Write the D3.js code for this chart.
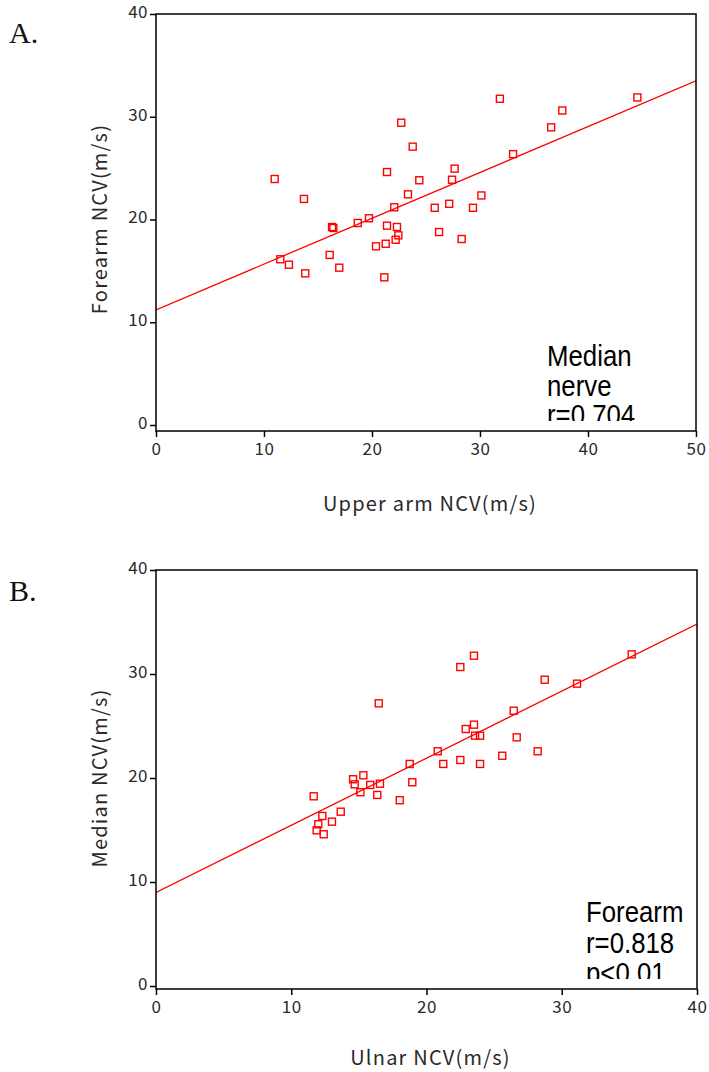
<!doctype html>
<html>
<head>
<meta charset="UTF-8">
<script src="https://cdn.jsdelivr.net/npm/d3@7"></script>
<style>
  body { margin: 0; background: #fff; }
  svg text { font-family: "Noto Sans CJK KR", "Noto Sans", sans-serif; }
</style>
</head>
<body>
<script>
// ---- panel A : upper arm vs forearm NCV (median nerve)
const upperArmNCV = [10.99, 13.70, 22.71, 23.77, 21.39, 24.38, 23.33, 22.06, 16.30, 16.42,
                     18.68, 19.72, 21.39, 22.31, 22.44, 22.19, 21.27, 20.37, 16.08, 11.51,
                     12.31, 13.82, 16.97, 21.14, 31.84, 37.62, 36.59, 44.57, 33.06, 27.65,
                     27.41, 30.13, 25.81, 27.15, 29.35, 26.21, 28.30];
const forearmNCV_A = [23.94, 22.00, 29.42, 27.09, 24.62, 23.82, 22.45, 21.19, 19.27, 19.17,
                      19.66, 20.12, 19.40, 19.27, 18.46, 18.03, 17.64, 17.39, 16.55, 16.13,
                      15.60, 14.76, 15.31, 14.37, 31.75, 30.61, 28.97, 31.88, 26.36, 24.95,
                      23.87, 22.34, 21.14, 21.53, 21.14, 18.78, 18.10];
const fitLineA = [[0, 11.2], [50, 33.5]];
const xTicksA = [0, 10, 20, 30, 40, 50];
const notesA = ["Median", "nerve", "r=0.704"];

// ---- panel B : ulnar vs median NCV (forearm)
const ulnarNCV = [16.47, 22.90, 20.83, 18.76, 21.24, 22.50, 15.33, 14.57, 14.69, 15.84,
                  16.56, 18.95, 15.11, 16.36, 18.02, 11.66, 13.66, 12.30, 13.01, 12.00,
                  11.88, 12.40, 23.51, 22.50, 35.17, 28.74, 31.13, 26.45, 23.51, 23.59,
                  23.96, 26.67, 23.96, 25.60, 28.22];
const medianNCV_B = [27.18, 24.71, 22.57, 21.35, 21.35, 21.73, 20.26, 19.88, 19.39, 19.33,
                     19.45, 19.59, 18.63, 18.37, 17.86, 18.24, 16.76, 16.35, 15.80, 15.55,
                     14.97, 14.59, 31.76, 30.67, 31.89, 29.45, 29.07, 26.47, 25.13, 24.07,
                     24.07, 23.91, 21.35, 22.14, 22.57];
const fitLineB = [[0, 9.0], [40, 34.8]];
const xTicksB = [0, 10, 20, 30, 40];
const notesB = ["Forearm", "r=0.818", "p<0.01"];

const yTicks = [0, 10, 20, 30, 40];

const svg = d3.select("body").append("svg")
    .attr("width", 709)
    .attr("height", 1072);

function drawPanel(o) {
    const x = d3.scaleLinear().domain(o.xDomain).range([o.left, o.right]);
    const y = d3.scaleLinear().domain([0, 40]).range([o.y0, o.y40]);
    const g = svg.append("g");

    // panel letter
    g.append("text")
        .attr("x", 9).attr("y", o.letterY)
        .style("font-family", "'Liberation Serif', 'DejaVu Serif', serif")
        .style("font-size", "30px")
        .attr("fill", "#111")
        .text(o.letter);

    // fit line, clipped to the frame
    const clipId = "clip" + o.letter.replace(".", "");
    g.append("clipPath").attr("id", clipId)
      .append("rect")
        .attr("x", o.left).attr("y", o.top)
        .attr("width", o.right - o.left).attr("height", o.bottom - o.top);

    g.append("line")
        .attr("clip-path", "url(#" + clipId + ")")
        .attr("x1", x(o.fit[0][0])).attr("y1", y(o.fit[0][1]))
        .attr("x2", x(o.fit[1][0])).attr("y2", y(o.fit[1][1]))
        .attr("stroke", "#ff0000")
        .attr("stroke-width", 1.3);

    // points
    g.selectAll("rect.pt")
        .data(o.xs.map((v, i) => [v, o.ys[i]]))
        .enter().append("rect")
          .attr("class", "pt")
          .attr("x", d => x(d[0]) - 3.5)
          .attr("y", d => y(d[1]) - 3.5)
          .attr("width", 7).attr("height", 7)
          .attr("fill", "none")
          .attr("stroke", "#ff0000")
          .attr("stroke-width", 1.4);

    // frame
    g.append("rect")
        .attr("x", o.left).attr("y", o.top)
        .attr("width", o.right - o.left).attr("height", o.bottom - o.top)
        .attr("fill", "none")
        .attr("stroke", "#000")
        .attr("stroke-width", 1.5);

    // y axis
    const yAxis = d3.axisLeft(y).tickValues(yTicks).tickSize(6).tickSizeOuter(0);
    const ya = g.append("g")
        .attr("transform", "translate(" + o.left + ",0)")
        .call(yAxis);
    ya.select(".domain").remove();
    ya.selectAll("line").attr("stroke", "#000").attr("stroke-width", 1.5);
    ya.selectAll("text")
        .attr("x", -8)
        .attr("dy", "0.2em")
        .style("font-size", "17px")
        .style("letter-spacing", "0.5px")
        .attr("fill", "#2a2a2a");

    // x axis
    const xAxis = d3.axisBottom(x).tickValues(o.xTicks).tickSize(6).tickSizeOuter(0);
    const xa = g.append("g")
        .attr("transform", "translate(0," + o.bottom + ")")
        .call(xAxis);
    xa.select(".domain").remove();
    xa.selectAll("line").attr("stroke", "#000").attr("stroke-width", 1.5);
    xa.selectAll("text")
        .attr("y", 10)
        .attr("dy", "0.85em")
        .style("font-size", "17px")
        .style("letter-spacing", "0.5px")
        .attr("fill", "#2a2a2a");

    // axis titles
    g.append("text")
        .attr("x", (o.left + o.right) / 2 + 4)
        .attr("y", o.xTitleY)
        .attr("text-anchor", "middle")
        .style("font-size", "20px")
        .style("letter-spacing", "1.2px")
        .attr("fill", "#2a2a2a")
        .text(o.xTitle);

    g.append("text")
        .attr("transform", "translate(" + 107 + "," + o.yTitleY + ") rotate(-90)")
        .attr("text-anchor", "middle")
        .style("font-size", "20px")
        .style("letter-spacing", "1.2px")
        .attr("fill", "#2a2a2a")
        .text(o.yTitle);

    // annotation box, cut off a little above the x axis
    const noteClip = "note" + o.letter.replace(".", "");
    g.append("clipPath").attr("id", noteClip)
      .append("rect")
        .attr("x", o.left).attr("y", o.top)
        .attr("width", o.right - o.left).attr("height", o.bottom - o.top - 10);

    const note = g.append("g").attr("clip-path", "url(#" + noteClip + ")");
    note.selectAll("text")
        .data(o.notes)
        .enter().append("text")
          .attr("transform", (d, i) => "translate(" + o.noteX + "," + (o.noteY + i * o.noteStep) + ") scale(0.86,1)")
          .style("font-family", "'Liberation Sans', Arial, sans-serif")
          .style("font-size", o.noteSize + "px")
          .attr("fill", "#000")
          .text(d => d);
}

drawPanel({
    letter: "A.", letterY: 43,
    xs: upperArmNCV, ys: forearmNCV_A, fit: fitLineA,
    xDomain: [0, 50], xTicks: xTicksA,
    left: 156, right: 696, top: 14, bottom: 431, y0: 425, y40: 14,
    xTitle: "Upper arm NCV(m/s)", xTitleY: 511,
    yTitle: "Forearm NCV(m/s)", yTitleY: 219,
    notes: notesA, noteX: 547, noteY: 366, noteStep: 29.5, noteSize: 30
});

drawPanel({
    letter: "B.", letterY: 601,
    xs: ulnarNCV, ys: medianNCV_B, fit: fitLineB,
    xDomain: [0, 40], xTicks: xTicksB,
    left: 156, right: 697, top: 570, bottom: 989, y0: 986, y40: 570,
    xTitle: "Ulnar NCV(m/s)", xTitleY: 1065,
    yTitle: "Median NCV(m/s)", yTitleY: 778,
    notes: notesB, noteX: 586, noteY: 922, noteStep: 30.5, noteSize: 30
});
</script>
</body>
</html>
